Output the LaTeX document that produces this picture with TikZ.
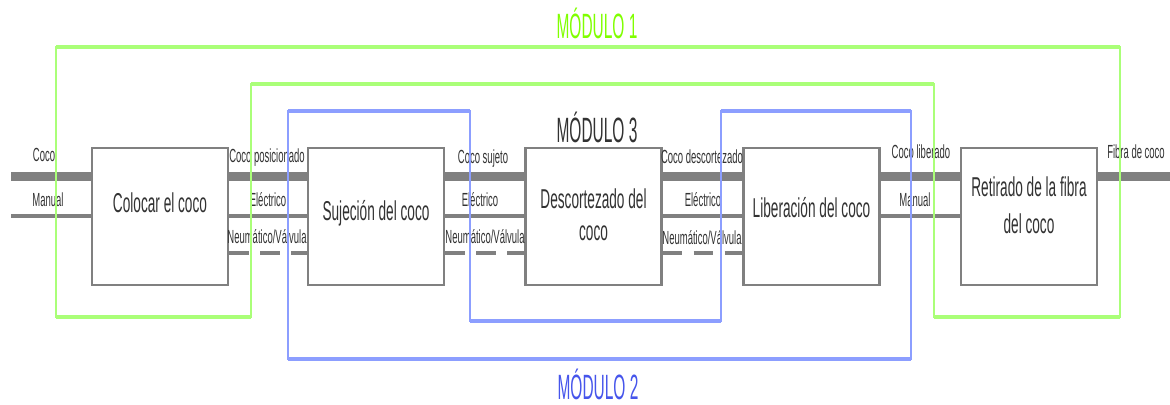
\documentclass[tikz,border=0pt]{standalone}
\usepackage{fontspec}
\setmainfont{Liberation Sans}
\newfontfamily\condfont[FakeStretch=0.5]{Liberation Sans}
\newfontfamily\modfont[FakeStretch=0.44]{Liberation Sans}
\definecolor{boxgray}{RGB}{128,128,128}
\definecolor{mgreen}{RGB}{170,255,120}
\definecolor{mblue}{RGB}{140,158,255}
\definecolor{tgreen}{RGB}{128,255,0}
\definecolor{tblue}{RGB}{70,85,235}
\definecolor{tdark}{RGB}{50,50,50}
\begin{document}
\begin{tikzpicture}[x=0.025cm,y=-0.025cm,
  procbox/.style={draw=boxgray,line width=1.8pt,minimum width=3.4cm,minimum height=3.425cm,inner sep=0pt,fill=white},
  boxtxt/.style={font=\condfont\fontsize{19.4}{23}\selectfont,inner sep=0pt,text height=13.9pt,text depth=0pt,text=tdark},
  boxtxtml/.style={font=\condfont\fontsize{19.4}{#1}\selectfont,inner sep=0pt,align=center,text=tdark},
  lbl/.style={font=\condfont\fontsize{13.5}{15}\selectfont,inner sep=0pt,text height=9.6pt,text depth=0pt,text=tdark},
  flowA/.style={draw=boxgray,line width=6.4pt},
  flowB/.style={draw=boxgray,line width=3.4pt},
  flowC/.style={draw=boxgray,line width=2.6pt,dash pattern=on 14pt off 8pt},
  modgreen/.style={draw=mgreen,line width=1.6pt},
  modblue/.style={draw=mblue,line width=1.6pt},
  modhz/.style={line width=2.9pt},
  modlbl/.style={font=\modfont\fontsize{25}{28}\selectfont,inner sep=0pt,text height=17.9pt,text depth=0pt}]
\useasboundingbox (0,0) rectangle (1170,405);

% process boxes
\node[procbox] (b1) at (160,216.5) {};
\node[procbox] (b2) at (376,216.5) {};
\node[procbox] (b3) at (593.5,216.5) {};
\node[procbox] (b4) at (811.5,216.5) {};
\node[procbox] (b5) at (1029,216.5) {};

\node[boxtxt] (t1) at (160,203) {Colocar el coco};
\node[boxtxt] (t2) at (376,211) {Sujeción del coco};
\node[boxtxtml=23pt] (t3) at (593.5,214.5) {Descortezado del\\coco};
\node[boxtxt] (t4) at (811.5,208) {Liberación del coco};
\node[boxtxtml=26pt] (t5) at (1029,205) {Retirado de la fibra\\del coco};

% reference levels
\coordinate (yA) at (0,177);
\coordinate (yB) at (0,216);
\coordinate (yC) at (0,253);
\coordinate (inA) at (11,177);
\coordinate (inB) at (11,216);
\coordinate (outA) at (1170,177);

% flows
\draw[flowA] (inA) -- (b1.west |- yA);
\draw[flowB] (inB) -- (b1.west |- yB);
\foreach \a/\b in {b1/b2,b2/b3,b3/b4}{
  \draw[flowA] (\a.east |- yA) -- (\b.west |- yA);
  \draw[flowB] (\a.east |- yB) -- (\b.west |- yB);
  \draw[flowC] (\a.east |- yC) -- (\b.west |- yC);
}
\draw[flowA] (b4.east |- yA) -- (b5.west |- yA);
\draw[flowB] (b4.east |- yB) -- (b5.west |- yB);
\draw[flowA] (b5.east |- yA) -- (outA);

% flow labels
\node[lbl] (l01) at (44,155) {Coco};
\node[lbl] (l02) at (48,200) {Manual};
\node[lbl] (l11) at (267,156) {Coco posicionado};
\node[lbl] (l12) at (268,200) {Eléctrico};
\node[lbl] (l13) at (267,237) {Neumático/Válvula};
\node[lbl] (l21) at (483,157) {Coco sujeto};
\node[lbl] (l22) at (480,200) {Eléctrico};
\node[lbl] (l23) at (485,237) {Neumático/Válvula};
\node[lbl] (l31) at (702,157) {Coco descortezado};
\node[lbl] (l32) at (703,200) {Eléctrico};
\node[lbl] (l33) at (702,238) {Neumático/Válvula};
\node[lbl] (l41) at (921,152) {Coco liberado};
\node[lbl] (l42) at (915,200) {Manual};
\node[lbl] (l51) at (1136,152) {Fibra de coco};

% modules
\draw[modgreen] (56,47) -- (1120,47) -- (1120,317) -- (934,317) -- (934,84)
  -- (251,84) -- (251,317) -- (56,317) -- cycle;
\draw[modgreen,modhz] (56,47) -- (1120,47) (934,84) -- (251,84)
  (1120,317) -- (934,317) (251,317) -- (56,317);
\draw[modblue] (288,111) -- (470,111) -- (470,321) -- (721,321) -- (721,111)
  -- (911,111) -- (911,359) -- (288,359) -- cycle;
\draw[modblue,modhz] (288,111) -- (470,111) (721,111) -- (911,111)
  (470,321) -- (721,321) (911,359) -- (288,359);

\node[modlbl,text=tgreen] (m1) at (597,26) {MÓDULO 1};
\node[modlbl,text=tblue] (m2) at (598,387) {MÓDULO 2};
\node[modlbl,text=tdark] (m3) at (597,130) {MÓDULO 3};
\end{tikzpicture}
\end{document}
